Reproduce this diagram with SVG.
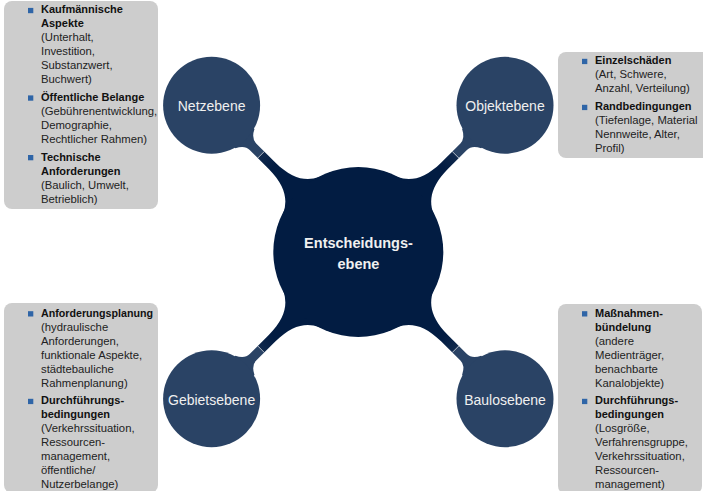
<svg xmlns="http://www.w3.org/2000/svg" width="703" height="491" viewBox="0 0 703 491">
<defs>
<style>
.box{fill:#cdcdcd}
.bul{fill:#2f65a7}
.t{font-family:"Liberation Sans",Arial,sans-serif;font-size:11.3px;fill:#222}
.b{font-weight:bold;font-size:11px;fill:#111}
.child{fill:#2a4365}
.root{fill:#021c42}
.cl{font-family:"Liberation Sans",Arial,sans-serif;font-size:14px;fill:#f0f0f0;text-anchor:middle}
.rl{font-family:"Liberation Sans",Arial,sans-serif;font-size:14.5px;font-weight:bold;fill:#f0f0f0;text-anchor:middle}
.bar{fill:url(#barGrad)}
.seam{stroke:#ffffff;stroke-width:0.9;stroke-opacity:0.7}
</style>
<linearGradient id="barGrad" gradientUnits="userSpaceOnUse" x1="85" y1="0" x2="160" y2="0">
<stop offset="0" stop-color="#021c42"/>
<stop offset="0.47" stop-color="#021c42"/>
<stop offset="0.7" stop-color="#10294d"/>
<stop offset="0.7" stop-color="#2a4365"/>
<stop offset="1" stop-color="#2a4365"/>
</linearGradient>
<g id="conn">
<path class="bar" d="M76,37 C82,17 92,5 122,4.6 L149,4.6 Q156,4.6 160.3,13.5 L185,12 L185,-12 L160.3,-13.5 Q156,-4.6 149,-4.6 L122,-4.6 C92,-5 82,-17 76,-37 L40,-20 L40,20 Z"/>
<line class="seam" x1="137.5" y1="-4.6" x2="137.5" y2="4.6"/>
</g>
</defs>

<g id="connectors">
<use href="#conn" transform="translate(358.3,252) rotate(-135)"/>
<use href="#conn" transform="translate(358.3,252) rotate(-45)"/>
<use href="#conn" transform="translate(358.3,252) rotate(135)"/>
<use href="#conn" transform="translate(358.3,252) rotate(45)"/>
</g>

<g id="entscheidungsebene">
<circle class="root" cx="358.3" cy="252" r="85"/>
<text class="rl" x="358.5" y="248">Entscheidungs-</text>
<text class="rl" x="358.5" y="269">ebene</text>
</g>

<g id="netzebene">
<circle class="child" cx="211.6" cy="105.3" r="48.5"/>
<text class="cl" x="211.6" y="110.5">Netzebene</text>
</g>
<g id="objektebene">
<circle class="child" cx="505" cy="105.3" r="48.5"/>
<text class="cl" x="505" y="110.5">Objektebene</text>
</g>
<g id="gebietsebene">
<circle class="child" cx="211.6" cy="398.7" r="48.5"/>
<text class="cl" x="211.6" y="404.5">Gebietsebene</text>
</g>
<g id="baulosebene">
<circle class="child" cx="505" cy="398.7" r="48.5"/>
<text class="cl" x="505" y="404.5">Baulosebene</text>
</g>

<g id="netz-notes">
<rect class="box" x="4" y="1" width="154" height="208" rx="8"/>
<rect class="bul" x="28" y="7.9" width="5.3" height="5.3"/>
<rect class="bul" x="28" y="95.4" width="5.3" height="5.3"/>
<rect class="bul" x="28" y="155" width="5.3" height="5.3"/>
<text class="t b" x="41" y="13.3">Kaufmännische</text>
<text class="t b" x="41" y="27.3">Aspekte</text>
<text class="t" x="41" y="41.3">(Unterhalt,</text>
<text class="t" x="41" y="55.3">Investition,</text>
<text class="t" x="41" y="69.3">Substanzwert,</text>
<text class="t" x="41" y="83.3">Buchwert)</text>
<text class="t b" x="41" y="100.9">Öffentliche Belange</text>
<text class="t" x="41" y="114.9">(Gebührenentwicklung,</text>
<text class="t" x="41" y="128.9">Demographie,</text>
<text class="t" x="41" y="142.9">Rechtlicher Rahmen)</text>
<text class="t b" x="41" y="160.5">Technische</text>
<text class="t b" x="41" y="174.5">Anforderungen</text>
<text class="t" x="41" y="188.5">(Baulich, Umwelt,</text>
<text class="t" x="41" y="202.5">Betrieblich)</text>
</g>

<g id="objekt-notes">
<rect class="box" x="558" y="52" width="160" height="106" rx="8"/>
<rect class="bul" x="582" y="58.8" width="5.3" height="5.3"/>
<rect class="bul" x="582" y="104.8" width="5.3" height="5.3"/>
<text class="t b" x="595" y="64.3">Einzelschäden</text>
<text class="t" x="595" y="78.3">(Art, Schwere,</text>
<text class="t" x="595" y="92.3">Anzahl, Verteilung)</text>
<text class="t b" x="595" y="110.3">Randbedingungen</text>
<text class="t" x="595" y="124.3">(Tiefenlage, Material</text>
<text class="t" x="595" y="138.3">Nennweite, Alter,</text>
<text class="t" x="595" y="152.3">Profil)</text>
</g>

<g id="gebiet-notes">
<rect class="box" x="4" y="303" width="154" height="190" rx="8"/>
<rect class="bul" x="28" y="311.2" width="5.3" height="5.3"/>
<rect class="bul" x="28" y="398.8" width="5.3" height="5.3"/>
<text class="t b" x="41" y="316.7" textLength="112" lengthAdjust="spacingAndGlyphs">Anforderungsplanung</text>
<text class="t" x="41" y="330.7">(hydraulische</text>
<text class="t" x="41" y="344.7">Anforderungen,</text>
<text class="t" x="41" y="358.7">funktionale Aspekte,</text>
<text class="t" x="41" y="372.7">städtebauliche</text>
<text class="t" x="41" y="386.7">Rahmenplanung)</text>
<text class="t b" x="41" y="404.3">Durchführungs-</text>
<text class="t b" x="41" y="418.3">bedingungen</text>
<text class="t" x="41" y="432.3">(Verkehrssituation,</text>
<text class="t" x="41" y="446.3">Ressourcen-</text>
<text class="t" x="41" y="460.3">management,</text>
<text class="t" x="41" y="474.3">öffentliche/</text>
<text class="t" x="41" y="488.3">Nutzerbelange)</text>
</g>

<g id="baulos-notes">
<rect class="box" x="558" y="304" width="144" height="190" rx="8"/>
<rect class="bul" x="582" y="311.2" width="5.3" height="5.3"/>
<rect class="bul" x="582" y="398.8" width="5.3" height="5.3"/>
<text class="t b" x="595" y="316.7">Maßnahmen-</text>
<text class="t b" x="595" y="330.7">bündelung</text>
<text class="t" x="595" y="344.7">(andere</text>
<text class="t" x="595" y="358.7">Medienträger,</text>
<text class="t" x="595" y="372.7">benachbarte</text>
<text class="t" x="595" y="386.7">Kanalobjekte)</text>
<text class="t b" x="595" y="404.3">Durchführungs-</text>
<text class="t b" x="595" y="418.3">bedingungen</text>
<text class="t" x="595" y="432.3">(Losgröße,</text>
<text class="t" x="595" y="446.3">Verfahrensgruppe,</text>
<text class="t" x="595" y="460.3">Verkehrssituation,</text>
<text class="t" x="595" y="474.3">Ressourcen-</text>
<text class="t" x="595" y="488.3">management)</text>
</g>
</svg>
